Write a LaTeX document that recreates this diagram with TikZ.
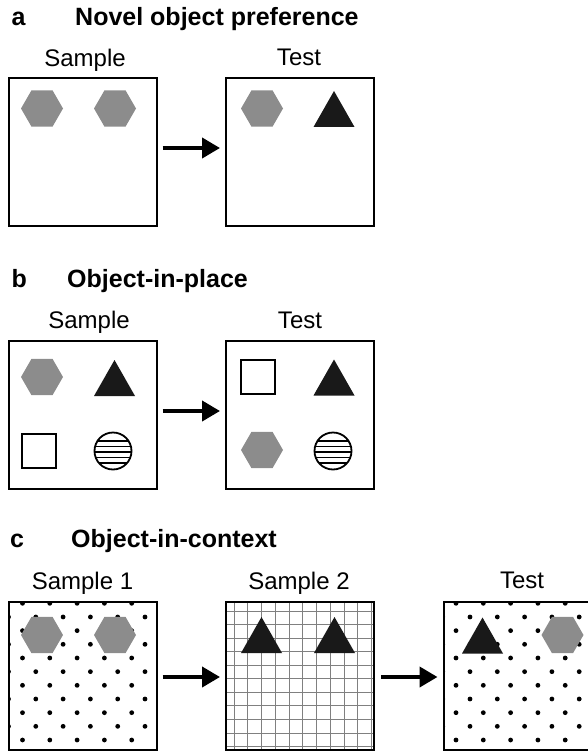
\documentclass[tikz,border=0pt]{standalone}
\usepackage{fontspec}
\setmainfont{Liberation Sans}
\usetikzlibrary{arrows.meta,backgrounds}
\definecolor{hexgray}{gray}{0.55}
\definecolor{tridark}{gray}{0.1}
\definecolor{gridgray}{gray}{0.5}
\newcommand\myhex[2]{\fill[hexgray] (#1-21,#2) -- (#1-10.5,#2-18.2) -- (#1+10.5,#2-18.2) -- (#1+21,#2) -- (#1+10.5,#2+18.2) -- (#1-10.5,#2+18.2) -- cycle;}
\newcommand\mytri[2]{\fill[tridark] (#1-20.5,#2+18) -- (#1,#2-18) -- (#1+20.5,#2+18) -- cycle;}
\newcommand\mysq[2]{\draw[line width=1.8pt] (#1-17,#2-17) rectangle (#1+17,#2+17);}
\newcommand\mycirc[2]{%
  \begin{scope}
    \clip (#1,#2) circle[radius=18.5];
    \foreach \d in {-10,-4.5,1,6.5,12} \draw[line width=1.2pt] (#1-20,#2+\d) -- (#1+20,#2+\d);
  \end{scope}
  \draw[line width=1.8pt] (#1,#2) circle[radius=18.5];}
\begin{document}
\begin{tikzpicture}[x=1pt,y=-1pt,
  box/.style={draw, line width=2pt, minimum width=148pt, minimum height=148pt, inner sep=0pt, outer sep=0pt},
  arr/.style={line width=4pt, -{Triangle[length=18pt,width=20pt]}},
  ttl/.style={anchor=base west, inner sep=0pt, font=\fontsize{25}{30}\selectfont\bfseries},
  lab/.style={anchor=base, inner sep=0pt, font=\fontsize{24}{28}\selectfont},
  gridline/.style={draw=gridgray, line width=1pt}]
\useasboundingbox (0,0) rectangle (587,751);

% ---------- panel a ----------
\node[ttl] (la) at (11.5,26) {a};
\node[ttl] (ta) at (75,26) {Novel object preference};
\node[lab] (sa) at (85,66.5) {Sample};
\node[lab] (tea) at (299,65.5) {Test};
\node[box] (aS) at (82.5,152) {};
\node[box] (aT) at (300,152) {};
\myhex{42}{108.5}
\myhex{115}{108.5}
\myhex{262}{108.5}
\mytri{334}{109}
\draw[arr] ([xshift=6pt,yshift=4pt]aS.east) -- ([xshift=-6pt,yshift=4pt]aT.west);

% ---------- panel b ----------
\node[ttl] (lb) at (11.5,287) {b};
\node[ttl] (tb) at (67,287) {Object-in-place};
\node[lab] (sb) at (89,328) {Sample};
\node[lab] (teb) at (300,328) {Test};
\node[box] (bS) at (82.5,415) {};
\node[box] (bT) at (300,415) {};
\myhex{42}{377}
\mytri{114.5}{378}
\mysq{39}{451}
\mycirc{113}{451}
\mysq{258}{377}
\mytri{334}{377.5}
\myhex{262}{450}
\mycirc{333}{451}
\draw[arr] ([xshift=6pt,yshift=4pt]bS.east) -- ([xshift=-6pt,yshift=4pt]bT.west);

% ---------- panel c ----------
\node[ttl] (lc) at (10,547.5) {c};
\node[ttl] (tc) at (71,547.5) {Object-in-context};
\node[lab] (sc1) at (82.5,589.5) {Sample 1};
\node[lab] (sc2) at (299,589.5) {Sample 2};
\node[lab] (tec) at (522,588) {Test};
\node[box] (c1) at (82.5,675.5) {};
\node[box] (c2) at (300,675.5) {};
\node[box] (c3) at (517.5,675.5) {};
\begin{scope}[on background layer]
  \begin{scope}
    \clip (c1.north west) rectangle (c1.south east);
    \foreach \k in {0,2,...,10} \foreach \m in {0,...,4} \fill (22.5+27.3*\m,603.3+13.67*\k) circle[radius=2.4];
    \foreach \k in {1,3,...,9} \foreach \m in {0,...,5} \fill (8.5+27.3*\m,603.3+13.67*\k) circle[radius=2.4];
  \end{scope}
  \begin{scope}
    \clip (c2.north west) rectangle (c2.south east);
    \foreach \k in {0,...,10} \draw[gridline] (234+13.77*\k,600) -- ++(0,152);
    \foreach \k in {0,...,10} \draw[gridline] (224,611+13.57*\k) -- ++(152,0);
  \end{scope}
  \begin{scope}
    \clip (c3.north west) rectangle (c3.south east);
    \foreach \k in {0,2,...,10} \foreach \m in {0,...,5} \fill (456+27.3*\m,603.3+13.67*\k) circle[radius=2.4];
    \foreach \k in {1,3,...,9} \foreach \m in {0,...,5} \fill (442.7+27.3*\m,603.3+13.67*\k) circle[radius=2.4];
  \end{scope}
\end{scope}
\myhex{42}{635}
\myhex{115}{635}
\mytri{261.5}{635}
\mytri{334.5}{635}
\mytri{482.5}{635.5}
\myhex{562.5}{635}
\draw[arr] ([xshift=6pt,yshift=-1.5pt]c1.east) -- ([xshift=-6pt,yshift=-1.5pt]c2.west);
\draw[arr] ([xshift=7pt,yshift=-1.5pt]c2.east) -- ([xshift=-6pt,yshift=-1.5pt]c3.west);
\end{tikzpicture}
\end{document}
